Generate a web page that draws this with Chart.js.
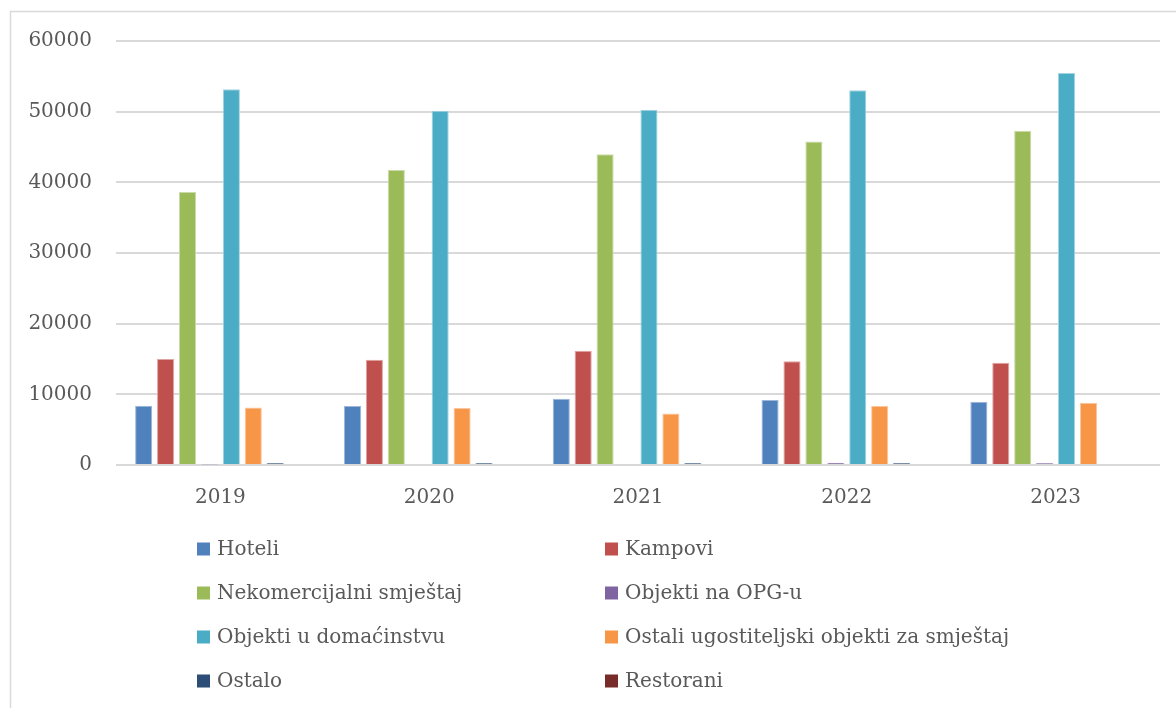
<!DOCTYPE html>
<html>
<head>
<meta charset="utf-8">
<script src="https://cdn.jsdelivr.net/npm/chart.js@4"></script>
<style>
html,body{margin:0;padding:0;background:#fff;}
#wrap{width:1176px;height:708px;position:relative;}
</style>
</head>
<body>
<div id="wrap"><canvas id="c" width="1176" height="708"></canvas></div>
<script>
const categories = ['2019', '2020', '2021', '2022', '2023'];
const seriesNames = ['Hoteli', 'Kampovi', 'Nekomercijalni smještaj', 'Objekti na OPG-u',
  'Objekti u domaćinstvu', 'Ostali ugostiteljski objekti za smještaj', 'Ostalo', 'Restorani'];
const hoteli = [8390, 8340, 9380, 9190, 8950];
const kampovi = [15000, 14900, 16180, 14670, 14480];
const nekomercijalni = [38640, 41730, 43970, 45790, 47290];
const opg = [80, 140, 110, 330, 290];
const domacinstvo = [53180, 50140, 50280, 53040, 55470];
const ostaliUgost = [8150, 8060, 7300, 8340, 8810];
const ostalo = [280, 280, 280, 280, 0];
const restorani = [0, 0, 0, 0, 0];
const yTicks = [0, 10000, 20000, 30000, 40000, 50000, 60000];

const seriesValues = [hoteli, kampovi, nekomercijalni, opg, domacinstvo, ostaliUgost, ostalo, restorani];
const colors = ['#4F81BD', '#C0504D', '#9BBB59', '#8064A2', '#4BACC6', '#F79646', '#2C4D75', '#772C2A'];
const borders = ['#9DB6DA', '#DFA3A1', '#CADBA9', '#B9A7CE', '#A2D4E2', '#FAC59F', '#8FA2BC', '#B99594'];

const FONT = "'DejaVu Serif', 'Liberation Serif', serif";
const FSIZE = 20;
const TEXT = '#595959';

const frame = {
  id: 'frame',
  beforeDraw(chart) {
    const ctx = chart.ctx;
    ctx.save();
    ctx.strokeStyle = '#D9D9D9';
    ctx.lineWidth = 1.5;
    ctx.strokeRect(10.5, 11.5, 1200, 760);
    ctx.restore();
  }
};

const gridLegend = {
  id: 'gridLegend',
  afterDraw(chart) {
    const ctx = chart.ctx;
    const colX = [197, 605];
    const rowY0 = 549, rowStep = 44, box = 13;
    ctx.save();
    ctx.font = FSIZE + 'px ' + FONT;
    ctx.textBaseline = 'middle';
    ctx.textAlign = 'left';
    chart.data.datasets.forEach((ds, i) => {
      const x = colX[i % 2];
      const y = rowY0 + Math.floor(i / 2) * rowStep;
      ctx.fillStyle = ds.backgroundColor;
      ctx.fillRect(x, y - box / 2, box, box);
      ctx.fillStyle = TEXT;
      ctx.fillText(ds.label, x + 20, y + 1);
    });
    ctx.restore();
  }
};

new Chart(document.getElementById('c'), {
  type: 'bar',
  data: {
    labels: categories,
    datasets: seriesNames.map((n, i) => ({
      label: n,
      data: seriesValues[i],
      backgroundColor: colors[i],
      borderColor: borders[i],
      borderWidth: 1,
      categoryPercentage: 0.84,
      barPercentage: 0.78
    }))
  },
  options: {
    responsive: false,
    animation: false,
    devicePixelRatio: 1,
    layout: { padding: { top: 41, right: 16, bottom: 193, left: 0 } },
    plugins: { legend: { display: false }, tooltip: { enabled: false } },
    scales: {
      x: {
        grid: { display: false, drawTicks: false },
        border: { display: false },
        ticks: { color: TEXT, font: { family: FONT, size: FSIZE }, padding: 21 },
        afterFit(s) { s.height = 50; }
      },
      y: {
        min: 0, max: 60000,
        grid: { color: '#D9D9D9', lineWidth: 2, drawTicks: false },
        border: { display: false },
        afterBuildTicks(s) { s.ticks = yTicks.map(v => ({ value: v })); },
        ticks: { color: TEXT, font: { family: FONT, size: FSIZE }, padding: 24,
                 callback: v => String(v) },
        afterFit(s) { s.width = 116; }
      }
    }
  },
  plugins: [frame, gridLegend]
});
</script>
</body>
</html>
